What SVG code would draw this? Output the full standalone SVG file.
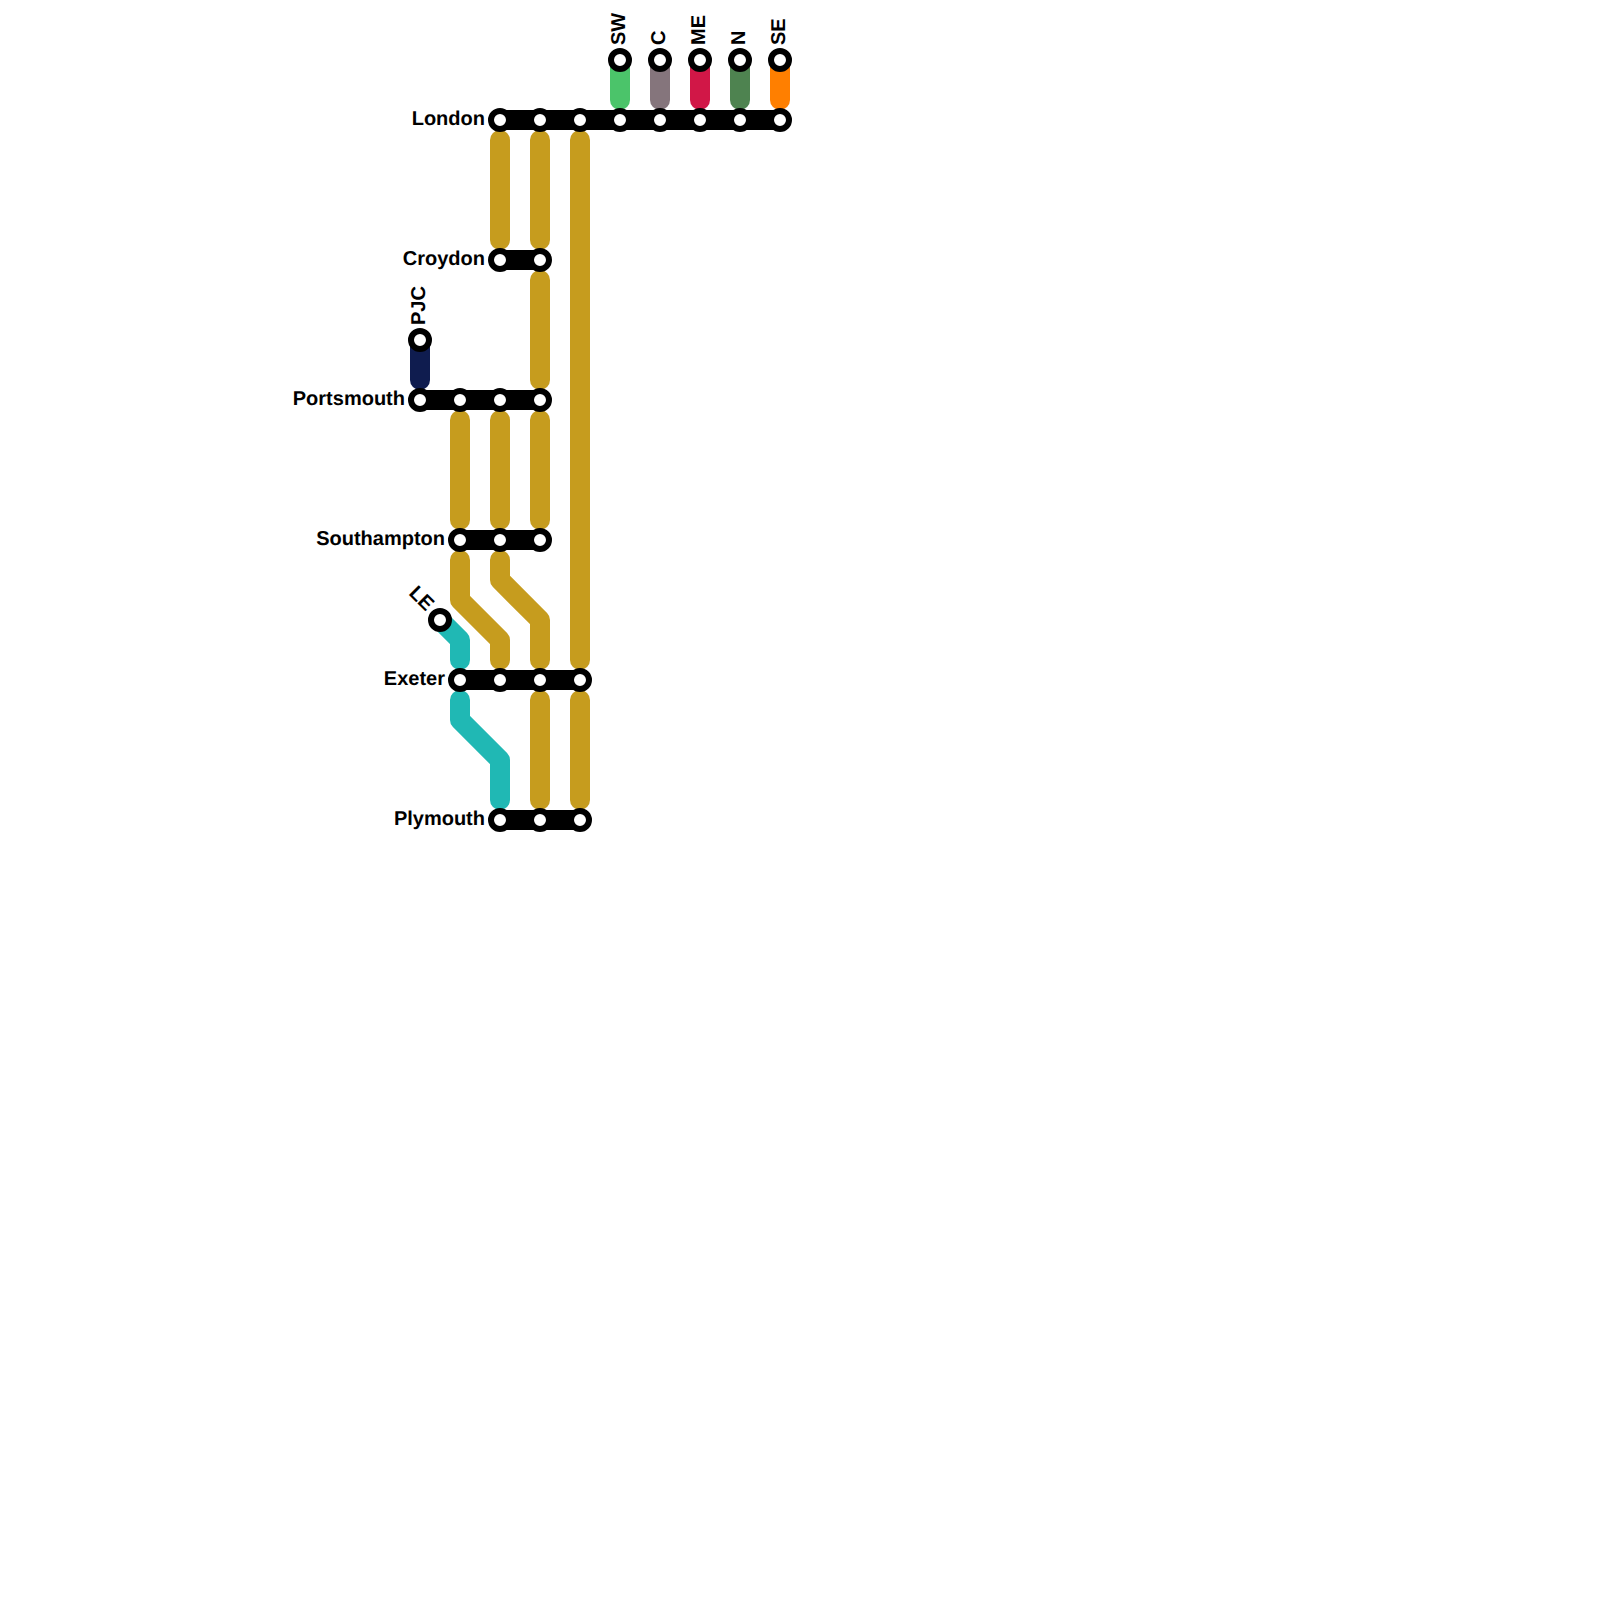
<svg xmlns="http://www.w3.org/2000/svg" width="1600" height="1600" viewBox="0 0 1600 1600">
<style>
.l{fill:none;stroke-width:20;stroke-linecap:round;stroke-linejoin:round}
.gold{stroke:#c69c1e}.teal{stroke:#20b8b4}
.bar{fill:none;stroke:#000;stroke-width:20;stroke-linecap:round}
.s{fill:#fff;stroke:#000;stroke-width:6}
text{font-family:"Liberation Sans",Arial,sans-serif;font-weight:700;font-size:20px;fill:#000;text-anchor:end;text-rendering:geometricPrecision}
text.r{text-anchor:start}
</style>
<rect width="1600" height="1600" fill="#fff"/>
<g id="connectors">
<path class="l" stroke="#4bc46a" d="M620 60V100"/>
<path class="l" stroke="#85757c" d="M660 60V100"/>
<path class="l" stroke="#d11747" d="M700 60V100"/>
<path class="l" stroke="#4e8350" d="M740 60V100"/>
<path class="l" stroke="#ff7f00" d="M780 60V100"/>
<path class="l" stroke="#0f1c4f" d="M420 340V380"/>
<path class="l gold" d="M500 140V240"/>
<path class="l gold" d="M540 140V240"/>
<path class="l gold" d="M580 140V660"/>
<path class="l gold" d="M540 280V380"/>
<path class="l gold" d="M460 420V520"/>
<path class="l gold" d="M500 420V520"/>
<path class="l gold" d="M540 420V520"/>
<path class="l gold" d="M460 560V600L500 640V660"/>
<path class="l gold" d="M500 560V580L540 620V660"/>
<path class="l teal" d="M440 620L460 640V660"/>
<path class="l gold" d="M540 700V800"/>
<path class="l gold" d="M580 700V800"/>
<path class="l teal" d="M460 700V720L500 760V800"/>
</g>
<g id="london"><path class="bar" d="M500 120H780"/>
<circle class="s" cx="500" cy="120" r="9"/><circle class="s" cx="540" cy="120" r="9"/><circle class="s" cx="580" cy="120" r="9"/><circle class="s" cx="620" cy="120" r="9"/><circle class="s" cx="660" cy="120" r="9"/><circle class="s" cx="700" cy="120" r="9"/><circle class="s" cx="740" cy="120" r="9"/><circle class="s" cx="780" cy="120" r="9"/>
<text x="485" y="125">London</text></g>
<g id="croydon"><path class="bar" d="M500 260H540"/>
<circle class="s" cx="500" cy="260" r="9"/><circle class="s" cx="540" cy="260" r="9"/>
<text x="485" y="265">Croydon</text></g>
<g id="portsmouth"><path class="bar" d="M420 400H540"/>
<circle class="s" cx="420" cy="400" r="9"/><circle class="s" cx="460" cy="400" r="9"/><circle class="s" cx="500" cy="400" r="9"/><circle class="s" cx="540" cy="400" r="9"/>
<text x="405" y="405">Portsmouth</text></g>
<g id="southampton"><path class="bar" d="M460 540H540"/>
<circle class="s" cx="460" cy="540" r="9"/><circle class="s" cx="500" cy="540" r="9"/><circle class="s" cx="540" cy="540" r="9"/>
<text x="445" y="545">Southampton</text></g>
<g id="exeter"><path class="bar" d="M460 680H580"/>
<circle class="s" cx="460" cy="680" r="9"/><circle class="s" cx="500" cy="680" r="9"/><circle class="s" cx="540" cy="680" r="9"/><circle class="s" cx="580" cy="680" r="9"/>
<text x="445" y="685">Exeter</text></g>
<g id="plymouth"><path class="bar" d="M500 820H580"/>
<circle class="s" cx="500" cy="820" r="9"/><circle class="s" cx="540" cy="820" r="9"/><circle class="s" cx="580" cy="820" r="9"/>
<text x="485" y="825">Plymouth</text></g>
<g id="sw"><circle class="s" cx="620" cy="60" r="9"/><text class="r" transform="translate(625 45) rotate(-90)">SW</text></g>
<g id="c"><circle class="s" cx="660" cy="60" r="9"/><text class="r" transform="translate(665 45) rotate(-90)">C</text></g>
<g id="me"><circle class="s" cx="700" cy="60" r="9"/><text class="r" transform="translate(705 45) rotate(-90)">ME</text></g>
<g id="n"><circle class="s" cx="740" cy="60" r="9"/><text class="r" transform="translate(745 45) rotate(-90)">N</text></g>
<g id="se"><circle class="s" cx="780" cy="60" r="9"/><text class="r" transform="translate(785 45) rotate(-90)">SE</text></g>
<g id="pjc"><circle class="s" cx="420" cy="340" r="9"/><text class="r" transform="translate(425 325) rotate(-90)">PJC</text></g>
<g id="le"><circle class="s" cx="440" cy="620" r="9"/><text transform="translate(426 612) rotate(45)">LE</text></g>
</svg>
